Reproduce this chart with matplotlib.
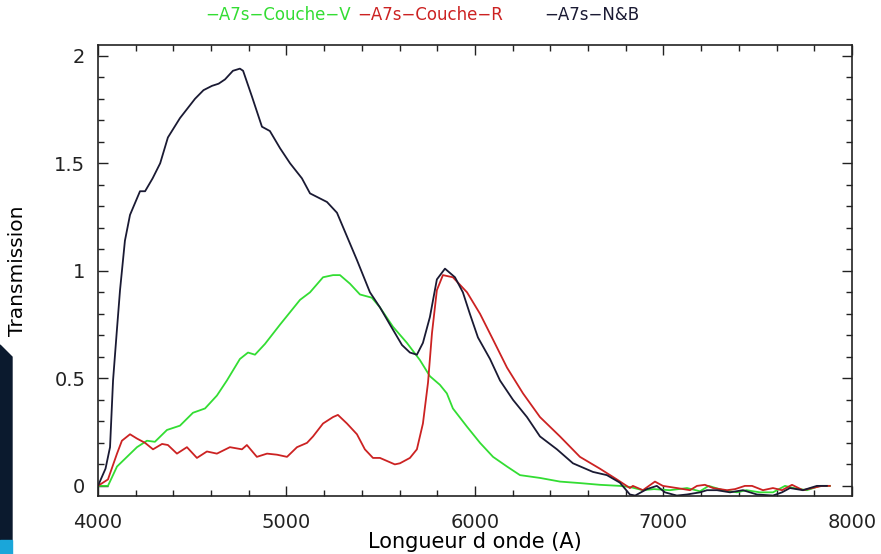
import numpy as np
import matplotlib
matplotlib.use("Agg")
import matplotlib.pyplot as plt
from matplotlib.patches import Polygon, Rectangle
from matplotlib.ticker import MultipleLocator

# black: A7s-N&B
wl_nb = [4000, 4040, 4064, 4080, 4100, 4117, 4143, 4170, 4223, 4250, 4290, 4330, 4371, 4435,
         4515, 4560, 4605, 4640, 4674, 4716, 4753, 4770, 4817, 4870, 4912, 4966, 5019,
         5082, 5125, 5170, 5215, 5268, 5321, 5374, 5443, 5496, 5549, 5613, 5655, 5692,
         5724, 5761, 5798, 5841, 5894, 5936, 5973, 6016, 6080, 6133, 6202, 6276, 6345,
         6435, 6520, 6626, 6700, 6769, 6822, 6850, 6912, 6965, 7008, 7071, 7125, 7194,
         7231, 7284, 7353, 7422, 7496, 7581, 7629, 7671, 7740, 7814, 7867]
t_nb = [0.0, 0.08, 0.18, 0.49, 0.72, 0.91, 1.14, 1.26, 1.37, 1.37, 1.43, 1.50, 1.62, 1.71,
        1.80, 1.84, 1.86, 1.87, 1.89, 1.93, 1.94, 1.93, 1.81, 1.67, 1.65, 1.57, 1.50,
        1.43, 1.36, 1.34, 1.32, 1.27, 1.16, 1.05, 0.90, 0.83, 0.75, 0.655, 0.62, 0.61,
        0.665, 0.785, 0.96, 1.01, 0.97, 0.90, 0.80, 0.69, 0.59, 0.49, 0.40, 0.32, 0.23,
        0.17, 0.105, 0.065, 0.05, 0.015, -0.04, -0.045, -0.015, 0.0, -0.03, -0.045, -0.04, -0.03,
        -0.02, -0.02, -0.03, -0.02, -0.04, -0.045, -0.03, -0.01, -0.02, 0.0, 0.0]

# red: A7s-Couche-R
wl_r = [4000, 4053, 4101, 4127, 4170, 4207, 4250, 4292, 4340, 4371, 4419, 4472, 4525, 4578,
        4631, 4700, 4764, 4790, 4843, 4897, 4950, 5003, 5056, 5109, 5141, 5194, 5247,
        5273, 5321, 5374, 5416, 5459, 5496, 5575, 5602, 5655, 5692, 5724, 5751, 5772,
        5798, 5830, 5883, 5958, 6027, 6096, 6170, 6255, 6345, 6451, 6557, 6663, 6753,
        6822, 6838, 6891, 6955, 6997, 7071, 7141, 7178, 7220, 7263, 7337, 7380, 7432,
        7470, 7528, 7581, 7629, 7682, 7740, 7790, 7841, 7883]
t_r = [0.0, 0.03, 0.15, 0.21, 0.24, 0.22, 0.20, 0.17, 0.195, 0.19, 0.15, 0.18, 0.13, 0.16,
       0.15, 0.18, 0.17, 0.19, 0.135, 0.15, 0.145, 0.135, 0.18, 0.20, 0.23, 0.29, 0.32,
       0.33, 0.29, 0.24, 0.17, 0.13, 0.13, 0.10, 0.105, 0.13, 0.17, 0.29, 0.48, 0.71,
       0.91, 0.98, 0.97, 0.90, 0.80, 0.68, 0.55, 0.43, 0.32, 0.23, 0.135, 0.08, 0.03,
       -0.01, 0.0, -0.02, 0.02, 0.0, -0.01, -0.02, 0.0, 0.005, -0.01, -0.02, -0.015, 0.0,
       0.0, -0.02, -0.01, -0.02, 0.005, -0.02, -0.01, 0.0, 0.0]

# green: A7s-Couche-V
wl_v = [4000, 4053, 4101, 4154, 4207, 4260, 4302, 4366, 4435, 4504, 4568, 4631, 4684, 4753,
        4796, 4833, 4886, 4966, 5072, 5125, 5194, 5247, 5284, 5337, 5390, 5453, 5496,
        5565, 5639, 5708, 5761, 5814, 5851, 5883, 5958, 6027, 6096, 6170, 6239, 6345,
        6451, 6557, 6663, 6769, 6822, 6891, 6950, 7034, 7125, 7194, 7240, 7316, 7390,
        7440, 7512, 7581, 7645, 7690, 7761, 7830, 7883]
t_v = [0.0, 0.0, 0.09, 0.135, 0.18, 0.21, 0.205, 0.26, 0.28, 0.34, 0.36, 0.42, 0.49, 0.59,
       0.62, 0.61, 0.66, 0.75, 0.865, 0.90, 0.97, 0.98, 0.98, 0.94, 0.89, 0.875, 0.83,
       0.74, 0.665, 0.585, 0.51, 0.47, 0.43, 0.36, 0.275, 0.20, 0.135, 0.09, 0.05, 0.037,
       0.02, 0.013, 0.005, 0.0, -0.005, -0.02, -0.015, -0.02, -0.01, -0.025, 0.0, -0.02, -0.03,
       -0.02, -0.03, -0.03, 0.0, -0.01, -0.02, 0.0, 0.0]

fig = plt.figure(figsize=(8.81, 5.54), dpi=100)
ax = fig.add_axes([0.1112, 0.1047, 0.8558, 0.8141])

ax.plot(wl_v, t_v, color="#33dd33", lw=1.3)
ax.plot(wl_r, t_r, color="#cc2222", lw=1.3)
ax.plot(wl_nb, t_nb, color="#1a1a33", lw=1.3)

ax.set_xlim(4000, 8000)
ax.set_ylim(-0.047, 2.05)
ax.xaxis.set_major_locator(MultipleLocator(1000))
ax.xaxis.set_minor_locator(MultipleLocator(200))
ax.yaxis.set_major_locator(MultipleLocator(0.5))
ax.yaxis.set_minor_locator(MultipleLocator(0.1))
ax.set_yticks([0, 0.5, 1, 1.5, 2])
ax.set_yticklabels(["0", "0.5", "1", "1.5", "2"])
ax.tick_params(which="both", direction="in", top=True, right=True, width=1, colors="#222222")
ax.tick_params(which="major", length=7, labelsize=14)
ax.tick_params(axis="x", which="major", pad=12)
ax.tick_params(axis="y", which="major", pad=9)
ax.tick_params(which="minor", length=4)
for s in ax.spines.values():
    s.set_linewidth(1.2)
    s.set_color("#222222")

ax.set_xlabel("Longueur d onde (A)", fontsize=15, labelpad=0)
ax.set_ylabel("Transmission", fontsize=14.5, labelpad=20)

# legend as coloured text at the top
fig.text(278 / 881, 1 - 15 / 554, "\u2212A7s\u2212Couche\u2212V", color="#33dd33", fontsize=12, ha="center", va="center")
fig.text(430 / 881, 1 - 15 / 554, "\u2212A7s\u2212Couche\u2212R", color="#cc2222", fontsize=12, ha="center", va="center")
fig.text(592 / 881, 1 - 15 / 554, "\u2212A7s\u2212N&B", color="#1a1a33", fontsize=12, ha="center", va="center")

# slide decoration at the left edge
W, H = 881, 554
fig.patches.append(Polygon([(0, 1 - 345 / H), (12 / W, 1 - 357 / H), (12 / W, 1 - 540 / H), (0, 1 - 540 / H)],
                           closed=True, transform=fig.transFigure, color="#0b1a2e", zorder=0))
fig.patches.append(Rectangle((0, 0), 12 / W, 14 / H, transform=fig.transFigure, color="#1aa6d9", zorder=0))

fig.savefig("out.png", dpi=100)
